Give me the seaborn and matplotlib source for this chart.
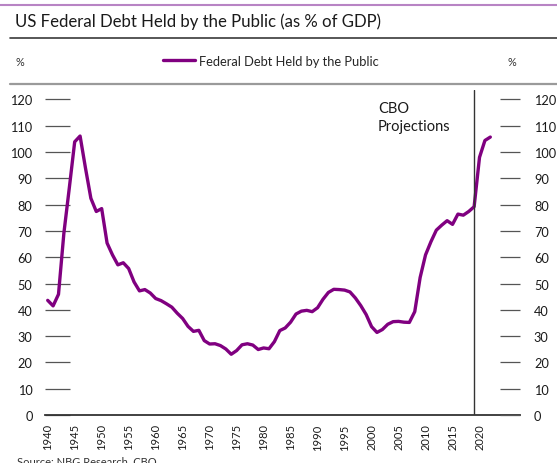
import matplotlib
matplotlib.use("Agg")
import matplotlib.pyplot as plt
from matplotlib.lines import Line2D
import numpy as np
import pandas as pd
import seaborn as sns

# Federal debt held by the public, % of GDP (CBO projections from 2020)
years = list(range(1940, 2023))
debt_pct = [
    43.6, 41.5, 45.9, 69.2, 86.3, 103.9, 106.1, 93.9, 82.4, 77.4,   # 1940s
    78.5, 65.4, 60.9, 57.1, 57.9, 55.7, 50.6, 47.2, 47.7, 46.4,     # 1950s
    44.3, 43.5, 42.3, 41.0, 38.7, 36.7, 33.7, 31.8, 32.2, 28.3,     # 1960s
    27.0, 27.1, 26.4, 25.1, 23.1, 24.5, 26.7, 27.1, 26.6, 24.9,     # 1970s
    25.5, 25.2, 27.9, 32.1, 33.1, 35.3, 38.4, 39.5, 39.8, 39.3,     # 1980s
    40.8, 44.0, 46.6, 47.8, 47.7, 47.5, 46.8, 44.5, 41.6, 38.2,     # 1990s
    33.6, 31.4, 32.5, 34.5, 35.5, 35.6, 35.3, 35.2, 39.3, 52.3,     # 2000s
    60.9, 65.9, 70.3, 72.2, 73.9, 72.5, 76.4, 76.0, 77.4, 79.2,     # 2010s
    98.0, 104.4, 105.7,                                             # 2020-2022
]
series_name = "Federal Debt Held by the Public"
projection_start = 2019
tick_years = list(range(1940, 2021, 5))
y_ticks = list(range(0, 121, 10))

df = pd.DataFrame({"year": years, "value": debt_pct})

W, H = 557, 464
sns.set_style("white")
plt.rcParams["font.family"] = ["Lato", "DejaVu Sans"]

fig = plt.figure(figsize=(W / 100, H / 100), dpi=100)
ax = fig.add_axes([45 / W, 1 - 416 / H, (520 - 45) / W, (416 - 91) / H])

purple = "#800080"
sns.lineplot(data=df, x="year", y="value", ax=ax, color=purple,
             linewidth=2.4, legend=False)

ax.set_xlim(1939.5, 2027.5)
ax.set_ylim(0, 123.6)
ax.set_xlabel("")
ax.set_ylabel("")

# projection marker
ax.axvline(projection_start, color="#333333", linewidth=1.0)
ax.text(2001.2, 119.6, "CBO\nProjections", fontsize=10.5, color="#1a1a1a",
        va="top", ha="left", linespacing=1.4)

# spines
for side in ["top", "left", "right"]:
    ax.spines[side].set_visible(False)
ax.spines["bottom"].set_color("#333333")
ax.spines["bottom"].set_linewidth(1.3)

# x axis: ticks on category boundaries, labels on category centres
ax.set_xticks([y - 0.5 for y in range(1940, 2026, 5)])
ax.set_xticklabels([])
ax.tick_params(axis="x", which="major", direction="in", length=9.5,
               width=0.9, color="#707070")
ax.set_xticks(tick_years, minor=True)
ax.set_xticklabels([str(y) for y in tick_years], minor=True, rotation=90,
                   fontsize=8)
ax.tick_params(axis="x", which="minor", length=0, pad=6, labelcolor="#1a1a1a")

# y axis on both sides with long inward ticks
ax.set_yticks(y_ticks)
ax.set_yticklabels([str(v) for v in y_ticks], fontsize=9.2)
ax.tick_params(axis="y", which="major", direction="in", length=18,
               width=0.9, color="#555555", left=True, right=False,
               pad=9, labelcolor="#1a1a1a")
ax2 = ax.twinx()
ax2.set_ylim(ax.get_ylim())
ax2.set_yticks(y_ticks)
ax2.set_yticklabels([str(v) for v in y_ticks], fontsize=9.2)
ax2.tick_params(axis="y", direction="in", length=14.5, width=0.9,
                color="#555555", pad=10, labelcolor="#1a1a1a")
for side in ["top", "left", "right", "bottom"]:
    ax2.spines[side].set_visible(False)

# header decorations
def hline(y, x0, x1, color, lw):
    fig.add_artist(Line2D([x0 / W, x1 / W], [1 - y / H, 1 - y / H],
                          transform=fig.transFigure, color=color, linewidth=lw))

hline(6, 0, W, "#b884c4", 1.5)
hline(39, 10, W, "#3a3a3a", 1.2)
hline(84.5, 10, W, "#9a9a9a", 1.6)

fig.text(15 / W, 1 - 22 / H, "US Federal Debt Held by the Public (as % of GDP)",
         fontsize=12.1, color="#1a1a1a", va="center", ha="left")

# legend row
fig.text(15 / W, 1 - 62 / H, "%", fontsize=7.8, color="#333333", va="center")
fig.text(507 / W, 1 - 62 / H, "%", fontsize=7.8, color="#333333", va="center")
handle = Line2D([], [], color=purple, linewidth=2.4)
fig.legend([handle], [series_name], loc="center left",
           bbox_to_anchor=(163 / W, 1 - 62 / H),
           frameon=False, fontsize=9.3, handlelength=2.5, handletextpad=0.25,
           borderaxespad=0, borderpad=0)

fig.text(17 / W, 1 - 456 / H, "Source: NBG Research, CBO", fontsize=8,
         color="#333333", va="top", ha="left")

fig.savefig("out.png", dpi=100)
